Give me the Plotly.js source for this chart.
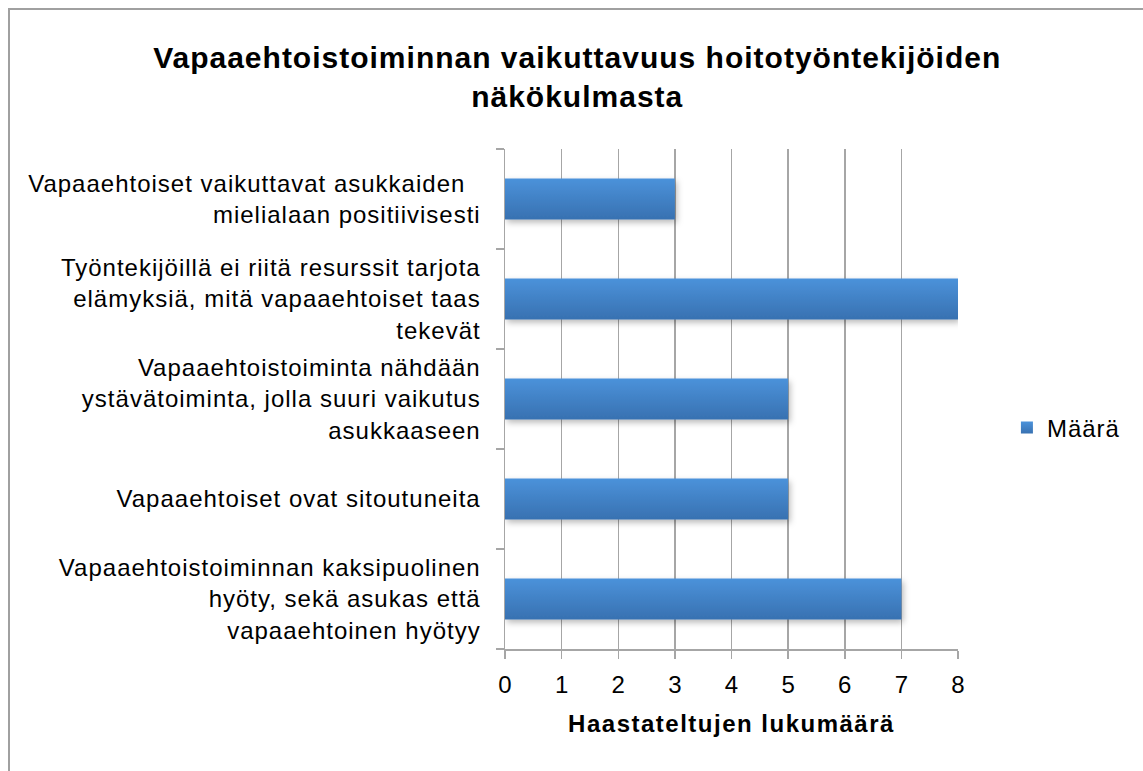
<!DOCTYPE html>
<html>
<head>
<meta charset="utf-8">
<script src="https://cdn.plot.ly/plotly-3.0.1.min.js"></script>
<style>
html,body{margin:0;padding:0;background:#fff;}
#chart{position:absolute;left:0;top:0;width:1143px;height:771px;}
#frame{position:absolute;left:8px;top:8px;width:1300px;height:900px;border-left:2px solid #a0a0a0;border-top:2px solid #a0a0a0;pointer-events:none;}
#chart .ytick text{letter-spacing:1px;}
#chart .gtitle{letter-spacing:1px;}
#chart .xtitle{letter-spacing:1.5px;}
#chart .legendtext{letter-spacing:1px;}
</style>
</head>
<body>
<div id="chart"></div>
<div id="frame"></div>
<svg width="0" height="0" style="position:absolute">
  <defs>
    <linearGradient id="barGrad" x1="0" y1="0" x2="0" y2="1">
      <stop offset="0" stop-color="#4b92da"/>
      <stop offset="1" stop-color="#3871b1"/>
    </linearGradient>
    <filter id="barShadow" x="-5%" y="-20%" width="115%" height="160%">
      <feDropShadow dx="2" dy="3" stdDeviation="3" flood-color="#000" flood-opacity="0.28"/>
    </filter>
  </defs>
</svg>
<script>
const categories = [
  "Vapaaehtoistoiminnan kaksipuolinen<br>hyöty, sekä asukas että<br>vapaaehtoinen hyötyy",
  "Vapaaehtoiset ovat sitoutuneita",
  "Vapaaehtoistoiminta nähdään<br>ystävätoiminta, jolla suuri vaikutus<br>asukkaaseen",
  "Työntekijöillä ei riitä resurssit tarjota<br>elämyksiä, mitä vapaaehtoiset taas<br>tekevät",
  "Vapaaehtoiset vaikuttavat asukkaiden  <br>mielialaan positiivisesti"
];
const values = [7, 5, 5, 8, 3];
const seriesName = "Määrä";
const titleText = "Vapaaehtoistoiminnan vaikuttavuus hoitotyöntekijöiden<br>näkökulmasta";
const xTitle = "Haastateltujen lukumäärä";

const font = "Liberation Sans, Arial, Helvetica, sans-serif";

Plotly.newPlot('chart', [{
  type: 'bar',
  orientation: 'h',
  y: categories,
  x: values,
  name: seriesName,
  width: 0.41,
  marker: {color: '#4180c6', line: {width: 0}},
  showlegend: true,
  hoverinfo: 'x+y'
}], {
  width: 1143, height: 771,
  margin: {l: 505, r: 185, t: 149, b: 122, pad: 0},
  paper_bgcolor: '#ffffff',
  plot_bgcolor: 'rgba(0,0,0,0)',
  font: {family: font, color: '#000', size: 24},
  title: {
    text: titleText,
    font: {family: font, size: 30, color: '#000', weight: 'bold'},
    x: 0.505, xanchor: 'center',
    y: 0.912, yanchor: 'top'
  },
  xaxis: {
    range: [0, 8],
    dtick: 1,
    tick0: 0,
    showgrid: true,
    gridcolor: '#a6a6a6',
    gridwidth: 1.5,
    zeroline: false,
    showline: true,
    linecolor: '#a6a6a6',
    linewidth: 1.5,
    ticks: 'outside',
    ticklen: 8,
    tickwidth: 1.5,
    tickcolor: '#a6a6a6',
    tickfont: {size: 24, family: font, color: '#000'},
    ticklabelstandoff: 6,
    title: {text: xTitle, font: {size: 24, family: font, color: '#000', weight: 'bold'}, standoff: 18},
    fixedrange: true
  },
  yaxis: {
    type: 'category',
    showline: true,
    linecolor: '#a6a6a6',
    linewidth: 1.5,
    ticks: 'outside',
    tickson: 'boundaries',
    ticklen: 8,
    tickwidth: 1.5,
    tickcolor: '#a6a6a6',
    showgrid: false,
    tickfont: {size: 24, family: font, color: '#000'},
    ticklabelstandoff: 18,
    fixedrange: true
  },
  legend: {
    x: 1.108, xanchor: 'left',
    y: 0.442, yanchor: 'middle',
    font: {size: 24, family: font, color: '#000'},
    bgcolor: 'rgba(0,0,0,0)',
    itemwidth: 30
  },
  bargap: 0.59
}, {displayModeBar: false, staticPlot: true}).then(function(gd){
  gd.querySelectorAll('.bars .point path').forEach(function(p){
    p.style.fill = 'url(#barGrad)';
    p.setAttribute('filter', 'url(#barShadow)');
  });
  gd.querySelectorAll('.legendpoints path').forEach(function(p){
    p.style.fill = 'url(#barGrad)';
  });
});
</script>
</body>
</html>
